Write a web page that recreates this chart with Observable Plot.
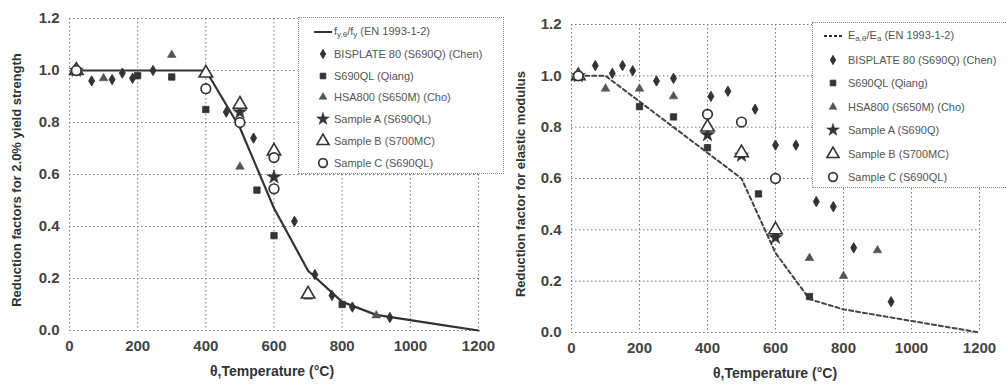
<!DOCTYPE html>
<html><head><meta charset="utf-8">
<script src="https://cdn.jsdelivr.net/npm/d3@7"></script>
<script src="https://cdn.jsdelivr.net/npm/@observablehq/plot@0.6"></script>
<style>
body{margin:0;background:#fff;font-family:"Liberation Sans",Arial,sans-serif;}
#wrap{position:relative;width:1006px;height:386px;overflow:hidden;background:#fff;}
.panel{position:absolute;top:0;}
.ylab,.xlab{position:absolute;font-weight:bold;font-size:13px;color:#333;white-space:nowrap;}
.ylab{transform:translate(-50%,-50%) rotate(-90deg);}
.xlab{transform:translate(-50%,-50%);font-size:14px;}
.legend{position:absolute;background:#fff;border:1px dotted #888;font-size:11px;color:#555;box-sizing:border-box;}
.row{position:absolute;left:0;height:16px;display:flex;align-items:center;white-space:nowrap;}
.row svg{flex:none;}
sub{font-size:8px;vertical-align:-2px;}
</style></head>
<body><div id="wrap"></div>
<script>
// ---------- data ----------
const xTicks = [0, 200, 400, 600, 800, 1000, 1200];
const yTicks = [0, 0.2, 0.4, 0.6, 0.8, 1.0, 1.2];

// EN 1993-1-2 reduction factors
const enTemps = [20, 100, 200, 300, 400, 500, 600, 700, 800, 900, 1000, 1100, 1200];
const enYield = [1, 1, 1, 1, 1, 0.78, 0.47, 0.23, 0.11, 0.06, 0.04, 0.02, 0];
const enModulus = [1, 1, 0.9, 0.8, 0.7, 0.6, 0.31, 0.13, 0.09, 0.0675, 0.045, 0.0225, 0];

// Left panel: reduction factors for 2.0% yield strength
const ysChenT = [20, 65, 125, 155, 185, 245, 460, 540, 660, 720, 770, 830, 940];
const ysChenK = [1.0, 0.96, 0.965, 0.99, 0.97, 1.0, 0.84, 0.74, 0.42, 0.215, 0.135, 0.09, 0.05];
const ysQiangT = [20, 200, 300, 400, 550, 600, 800];
const ysQiangK = [1.0, 0.98, 0.975, 0.85, 0.54, 0.365, 0.10];
const ysChoT = [20, 100, 300, 500, 700, 900];
const ysChoK = [1.0, 0.97, 1.06, 0.63, 0.13, 0.058];
const ysAT = [20, 500, 600];
const ysAK = [1.0, 0.84, 0.59];
const ysBT = [20, 400, 500, 600, 700];
const ysBK = [1.0, 0.99, 0.87, 0.69, 0.14];
const ysCT = [20, 400, 500, 600, 600];
const ysCK = [1.0, 0.93, 0.80, 0.665, 0.545];

// Right panel: reduction factor for elastic modulus
const emChenT = [20, 70, 120, 150, 180, 250, 300, 410, 460, 540, 600, 660, 720, 770, 830, 940];
const emChenK = [1.0, 1.04, 1.01, 1.04, 1.02, 0.98, 0.99, 0.92, 0.94, 0.87, 0.73, 0.73, 0.51, 0.49, 0.33, 0.12];
const emQiangT = [20, 200, 300, 400, 550, 600, 700];
const emQiangK = [1.0, 0.88, 0.84, 0.72, 0.54, 0.38, 0.14];
const emChoT = [20, 100, 200, 300, 700, 800, 900];
const emChoK = [1.0, 0.95, 0.95, 0.92, 0.29, 0.22, 0.32];
const emAT = [20, 400, 500, 600];
const emAK = [1.0, 0.77, 0.69, 0.37];
const emBT = [20, 400, 500, 600];
const emBK = [1.0, 0.80, 0.70, 0.40];
const emCT = [20, 400, 500, 600];
const emCK = [1.0, 0.85, 0.82, 0.60];

const leftNames = ["BISPLATE 80 (S690Q) (Chen)", "S690QL (Qiang)", "HSA800 (S650M) (Cho)", "Sample A (S690QL)", "Sample B (S700MC)", "Sample C (S690QL)"];
const rightNames = ["BISPLATE 80 (S690Q) (Chen)", "S690QL (Qiang)", "HSA800 (S650M) (Cho)", "Sample A (S690Q)", "Sample B (S700MC)", "Sample C (S690QL)"];

// ---------- styles ----------
const ink = "#333";
const markerStyles = [
  {symbol: "diamond", r: 3.1, fill: ink, stroke: ink, strokeWidth: 1},
  {symbol: "square", r: 3.6, fill: ink, stroke: ink, strokeWidth: 0.8},
  {symbol: "triangle", r: 3.2, fill: "#555", stroke: "#555", strokeWidth: 0.6},
  {symbol: "star", r: 4.4, fill: ink, stroke: ink, strokeWidth: 0.6},
  {symbol: "triangle", r: 5, fill: "white", stroke: ink, strokeWidth: 1.6},
  {symbol: "circle", r: 4.8, fill: "white", stroke: ink, strokeWidth: 1.7}
];

const zip = (T, K) => T.map((t, i) => ({T: t, k: K[i]}));

function panel({width, marginLeft, marginRight, marginTop, marginBottom, enK, dashed, series}) {
  const marks = [
    Plot.gridX(xTicks, {stroke: "#777", strokeOpacity: 1, strokeDasharray: "1.5,2.5"}),
    Plot.gridY(yTicks, {stroke: "#777", strokeOpacity: 1, strokeDasharray: "1.5,2.5"}),
    Plot.axisX({ticks: xTicks, tickSize: 0, tickPadding: 10, tickFormat: d3.format("d"), label: null, fontSize: 15, fontWeight: "bold", fill: "#444"}),
    Plot.axisY({ticks: yTicks, tickSize: 0, tickPadding: 10, tickFormat: d3.format(".1f"), label: null, fontSize: 15, fontWeight: "bold", fill: "#444"}),
    Plot.line(zip(enTemps, enK), {x: "T", y: "k", stroke: dashed ? "#444" : "#333", strokeWidth: dashed ? 2 : 2.2, strokeDasharray: dashed ? "4,3" : null})
  ];
  series.forEach(([T, K], i) => {
    const s = markerStyles[i];
    marks.push(Plot.dot(zip(T, K), {x: "T", y: "k", symbol: s.symbol, r: s.r, fill: s.fill, stroke: s.stroke, strokeWidth: s.strokeWidth}));
  });
  return Plot.plot({
    width, height: 386, marginLeft, marginRight, marginTop, marginBottom,
    style: {fontFamily: "'Liberation Sans', Arial, sans-serif", background: "transparent", color: "#444"},
    x: {domain: [0, 1200]},
    y: {domain: [0, 1.2]},
    marks
  });
}

function legend(parent, {left, top, width, height, rowTop, rowGap, markerX, textX, title, dashed, names}) {
  const box = document.createElement("div");
  box.className = "legend";
  Object.assign(box.style, {left: left + "px", top: top + "px", width: width + "px", height: height + "px"});
  const rows = [{line: true, html: title}].concat(names.map((n, i) => ({m: markerStyles[i], html: n})));
  rows.forEach((r, i) => {
    const row = document.createElement("div");
    row.className = "row";
    row.style.top = (rowTop + i * rowGap - 8) + "px";
    const svg = d3.create("svg").attr("width", textX).attr("height", 16);
    if (r.line) {
      svg.append("line").attr("x1", markerX - 9).attr("x2", markerX + 9).attr("y1", 8).attr("y2", 8)
        .attr("stroke", "#333").attr("stroke-width", 2).attr("stroke-dasharray", dashed ? "3,2" : null);
    } else {
      const typeMap = {diamond: d3.symbolDiamond, square: d3.symbolSquare, triangle: d3.symbolTriangle, star: d3.symbolStar, circle: d3.symbolCircle};
      svg.append("path").attr("transform", `translate(${markerX},8)`)
        .attr("d", d3.symbol(typeMap[r.m.symbol], Math.PI * r.m.r * r.m.r * 0.8)())
        .attr("fill", r.m.fill).attr("stroke", r.m.stroke).attr("stroke-width", r.m.strokeWidth);
    }
    row.appendChild(svg.node());
    const span = document.createElement("span");
    span.innerHTML = r.html;
    row.appendChild(span);
    box.appendChild(row);
  });
  parent.appendChild(box);
}

function label(parent, cls, x, y, text) {
  const d = document.createElement("div");
  d.className = cls;
  d.style.left = x + "px";
  d.style.top = y + "px";
  d.textContent = text;
  parent.appendChild(d);
}

const wrap = document.getElementById("wrap");

const leftDiv = document.createElement("div");
leftDiv.className = "panel";
leftDiv.style.left = "0px";
leftDiv.appendChild(panel({
  width: 500, marginLeft: 69, marginRight: 22, marginTop: 18, marginBottom: 56, enK: enYield, dashed: false,
  series: [[ysChenT, ysChenK], [ysQiangT, ysQiangK], [ysChoT, ysChoK], [ysAT, ysAK], [ysBT, ysBK], [ysCT, ysCK]]
}));
wrap.appendChild(leftDiv);

const rightDiv = document.createElement("div");
rightDiv.className = "panel";
rightDiv.style.left = "500px";
rightDiv.appendChild(panel({
  width: 506, marginLeft: 71, marginRight: 27, marginTop: 24, marginBottom: 54, enK: enModulus, dashed: true,
  series: [[emChenT, emChenK], [emQiangT, emQiangK], [emChoT, emChoK], [emAT, emAK], [emBT, emBK], [emCT, emCK]]
}));
wrap.appendChild(rightDiv);

label(wrap, "ylab", 16, 180, "Reduction factors for 2.0% yield strength");
label(wrap, "ylab", 520, 184, "Reduction factor for elastic modulus");
label(wrap, "xlab", 272, 371, "θ,Temperature (°C)");
label(wrap, "xlab", 775, 373, "θ,Temperature (°C)");

legend(wrap, {left: 298, top: 17, width: 206, height: 157, rowTop: 14, rowGap: 21.8, markerX: 24, textX: 35,
  title: "f<sub>y,θ</sub>/f<sub>y</sub> (EN 1993-1-2)", dashed: false, names: leftNames});
legend(wrap, {left: 812, top: 22, width: 200, height: 166, rowTop: 13, rowGap: 23.5, markerX: 20, textX: 35,
  title: "E<sub>a,θ</sub>/E<sub>a</sub> (EN 1993-1-2)", dashed: true, names: rightNames});
</script></body></html>
